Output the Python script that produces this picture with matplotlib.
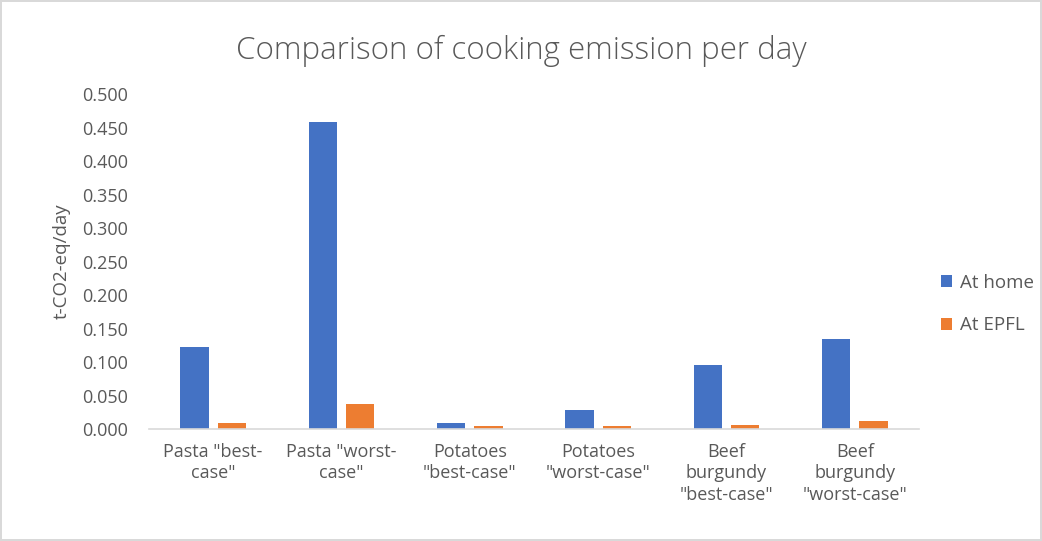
import matplotlib.pyplot as plt
import numpy as np

categories = ['Pasta "best-\ncase"', 'Pasta "worst-\ncase"', 'Potatoes\n"best-case"',
              'Potatoes\n"worst-case"', 'Beef\nburgundy\n"best-case"', 'Beef\nburgundy\n"worst-case"']
at_home = [0.123, 0.458, 0.009, 0.028, 0.095, 0.134]
at_epfl = [0.009, 0.037, 0.004, 0.004, 0.006, 0.012]
yticks = [0.0, 0.05, 0.1, 0.15, 0.2, 0.25, 0.3, 0.35, 0.4, 0.45, 0.5]

plt.rcParams['font.family'] = ['Open Sans', 'DejaVu Sans']
grey = '#595959'

fig = plt.figure(figsize=(10.42, 5.41), dpi=100)
fig.patch.set_edgecolor('#d9d9d9')
fig.patch.set_linewidth(1.5)
ax = fig.add_axes([0.143, 0.207, 0.739, 0.619])

x = np.arange(len(categories))
w = 0.22
ax.bar(x - 0.145, at_home, w, color='#4472c4', label='At home')
ax.bar(x + 0.145, at_epfl, w, color='#ed7d31', label='At EPFL')

ax.set_xlim(-0.5, len(categories) - 0.5)
ax.set_ylim(0, 0.5)
ax.set_yticks(yticks)
ax.set_yticklabels(['%.3f' % v for v in yticks])
ax.set_xticks(x)
ax.set_xticklabels(categories, linespacing=1.25)
ax.tick_params(axis='both', length=0, labelsize=13, colors=grey)
ax.tick_params(axis='x', pad=10)
ax.tick_params(axis='y', pad=15)
for s in ['top', 'right', 'left']:
    ax.spines[s].set_visible(False)
ax.spines['bottom'].set_color('#d9d9d9')
ax.spines['bottom'].set_linewidth(1.2)

ax.set_ylabel('t-CO2-eq/day', fontsize=13.5, color=grey, labelpad=8)
fig.suptitle('Comparison of cooking emission per day', fontsize=22.5, color=grey,
             y=0.935, fontweight='light')

fig.legend(loc='center left', bbox_to_anchor=(0.887, 0.438), frameon=False,
           handlelength=0.6, handleheight=0.6, labelspacing=1.3, handletextpad=0.4,
           fontsize=13.5, labelcolor=grey)

fig.savefig('out.png', dpi=100)
